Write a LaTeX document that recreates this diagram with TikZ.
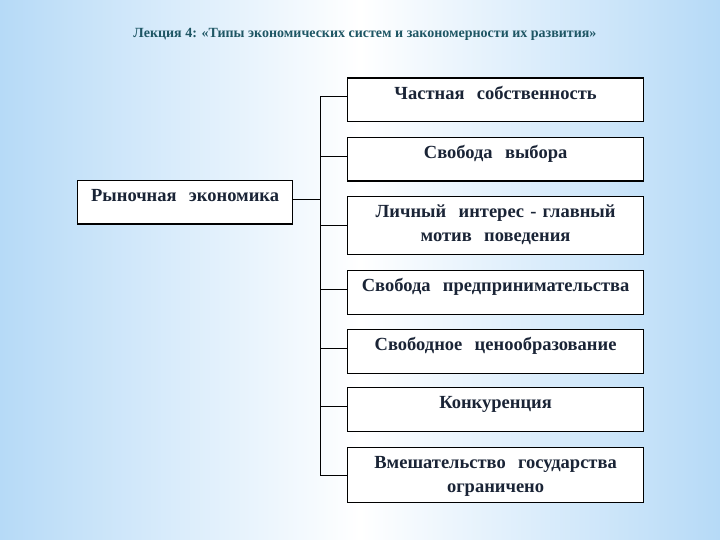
\documentclass[tikz,border=0pt]{standalone}
\usepackage{fontspec}
\setmainfont{Liberation Serif}
\usepackage{xcolor}
\usepackage{tikz}
\usetikzlibrary{positioning}

\definecolor{bgblue}{RGB}{182,218,247}
\definecolor{inkblue}{RGB}{26,36,54}
\definecolor{titleteal}{RGB}{30,86,100}

\begin{document}
\begin{tikzpicture}[
  x=1pt, y=-1pt,
  box/.style={rectangle, draw=black, line width=1.2pt, fill=white, anchor=north west,
    inner xsep=2pt, inner ysep=0pt, text width=292pt, align=center, text=inkblue,
    text height=21pt, font=\bfseries\fontsize{18.5}{24}\selectfont},
  single/.style={text depth=22.5pt},
  double/.style={text depth=35pt},
  link/.style={draw=black, line width=1pt}
]
  % background
  \useasboundingbox (0,0) rectangle (720,540);
  \shade[left color=bgblue, right color=bgblue, middle color=white] (0,0) rectangle (720,540);

  \node[font=\bfseries\fontsize{14}{16}\selectfont, text=titleteal] (title) at (365,34)
    {Лекция 4: «Типы экономических систем и закономерности их развития»};

  \node[box, single, text width=211pt] (market) at (77,180) {Рыночная\ \ экономика};

  \node[box, single] (b1) at (347,77.5) {Частная\ \ собственность};
  \node[box, single] (b2) at (347,137) {Свобода\ \ выбора};
  \node[box, double, text depth=37pt] (b3) at (347,196) {Личный\ \ интерес - главный\\мотив\ \ поведения};
  \node[box, single] (b4) at (347,270) {Свобода\ \ предпринимательства};
  \node[box, single] (b5) at (347,329) {Свободное\ \ ценообразование};
  \node[box, single] (b6) at (347,387) {Конкуренция};
  \node[box, double, text depth=34pt] (b7) at (347,447) {Вмешательство\ \ государства\\ограничено};

  \coordinate (spine) at (320,0);

  \draw[link] (market.mid east) -- (market.mid east -| spine);
  \draw[link] (b1.mid west) -- (b1.mid west -| spine) -- (b7.west -| spine) -- (b7.west);
  \draw[link] (b2.mid west -| spine) -- (b2.mid west);
  \draw[link] (b3.west -| spine) -- (b3.west);
  \draw[link] (b4.mid west -| spine) -- (b4.mid west);
  \draw[link] (b5.mid west -| spine) -- (b5.mid west);
  \draw[link] (b6.mid west -| spine) -- (b6.mid west);
\end{tikzpicture}
\end{document}
